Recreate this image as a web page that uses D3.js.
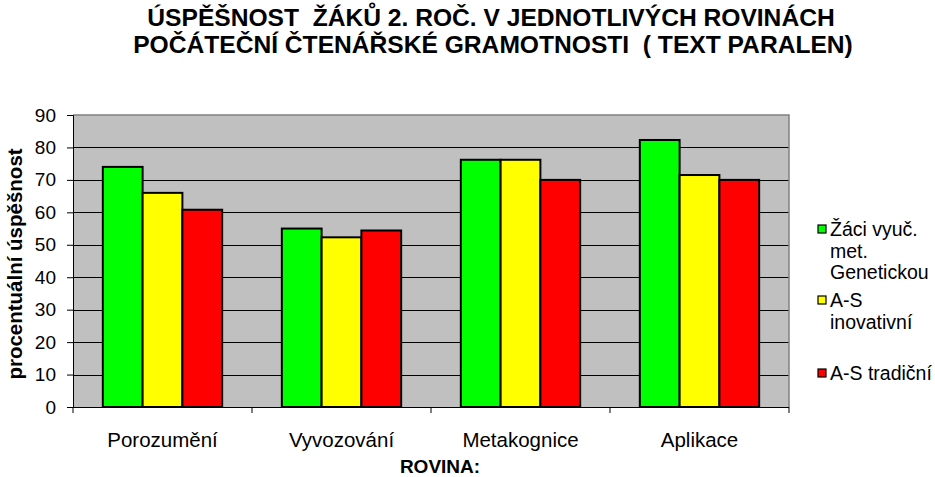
<!DOCTYPE html>
<html>
<head>
<meta charset="utf-8">
<script src="https://cdn.jsdelivr.net/npm/d3@7"></script>
<style>
  body { margin: 0; background: #fff; }
  text { font-family: "Liberation Sans", Arial, sans-serif; white-space: pre; }
</style>
</head>
<body>
<div id="chart"></div>
<script>
// data
const categories = ["Porozumění", "Vyvozování", "Metakognice", "Aplikace"];
const seriesNames = ["Žáci vyuč. met. Genetickou", "A-S inovativní", "A-S tradiční"];
const geneticka = [74, 55, 76.2, 82.3];
const inovativni = [66, 52.3, 76.2, 71.5];
const tradicni = [60.8, 54.4, 70, 70];
const yTicks = [0, 10, 20, 30, 40, 50, 60, 70, 80, 90];

const seriesValues = [geneticka, inovativni, tradicni];
const colors = ["#00FF00", "#FFFF00", "#FF0000"];

const width = 935, height = 477;
const margin = {top: 115, right: 146, bottom: 70, left: 73};
const plotW = width - margin.left - margin.right;
const plotH = height - margin.top - margin.bottom;

const svg = d3.select("#chart").append("svg")
    .attr("width", width)
    .attr("height", height);

// title (double spaces kept as in the original)
const title = svg.append("text")
    .attr("text-anchor", "middle")
    .attr("font-weight", "bold")
    .attr("font-size", 24.6);
title.append("tspan").attr("x", 491).attr("y", 26)
    .text("ÚSPĚŠNOST\u00A0 ŽÁKŮ 2. ROČ. V JEDNOTLIVÝCH ROVINÁCH");
title.append("tspan").attr("x", 493).attr("y", 53)
    .text("POČÁTEČNÍ ČTENÁŘSKÉ GRAMOTNOSTI\u00A0 ( TEXT PARALEN)");

const g = svg.append("g")
    .attr("transform", `translate(${margin.left},${margin.top})`);

const y = d3.scaleLinear().domain([0, 90]).range([plotH, 0]);
const x0 = d3.scaleBand().domain(categories).range([0, plotW])
    .paddingInner(1 / 3).paddingOuter(1 / 6);
const x1 = d3.scaleBand().domain(d3.range(seriesNames.length))
    .range([0, x0.bandwidth()]);

// plot background
g.append("rect")
    .attr("width", plotW)
    .attr("height", plotH)
    .attr("fill", "#C0C0C0");

// gridlines
g.selectAll(".grid")
    .data(yTicks.filter(d => d > 0 && d < 90))
    .enter().append("line")
    .attr("x1", 0).attr("x2", plotW)
    .attr("y1", d => Math.round(y(d)) + 0.5)
    .attr("y2", d => Math.round(y(d)) + 0.5)
    .attr("stroke", "#000")
    .attr("stroke-width", 1);

// top and right border
g.append("path")
    .attr("d", `M0,${y(90)}H${plotW}V${plotH}`)
    .attr("fill", "none")
    .attr("stroke", "#808080")
    .attr("stroke-width", 1.5);

// bars
const rows = categories.map((c, i) => ({cat: c, vals: seriesValues.map(s => s[i])}));
g.selectAll(".group")
    .data(rows)
    .enter().append("g")
    .attr("transform", d => `translate(${x0(d.cat)},0)`)
    .selectAll("rect")
    .data(d => d.vals.map((v, j) => ({v: v, j: j})))
    .enter().append("rect")
    .attr("x", d => x1(d.j))
    .attr("y", d => y(d.v))
    .attr("width", x1.bandwidth())
    .attr("height", d => plotH - y(d.v))
    .attr("fill", d => colors[d.j])
    .attr("stroke", "#000")
    .attr("stroke-width", 2);

// y axis
const yAxis = g.append("g")
    .call(d3.axisLeft(y).tickValues(yTicks).tickSize(6).tickPadding(11));
yAxis.select(".domain").attr("stroke", "#000").attr("stroke-width", 1);
yAxis.selectAll("text")
    .attr("font-size", 19)
    .attr("font-family", "Liberation Sans, Arial, sans-serif")
    .attr("fill", "#000");

// x axis
const bounds = d3.range(categories.length + 1).map(i => i * x0.step());
const xAxis = g.append("g").attr("transform", `translate(0,${plotH})`);
xAxis.append("line")
    .attr("x1", 0).attr("x2", plotW)
    .attr("y1", 0.5).attr("y2", 0.5)
    .attr("stroke", "#000");
xAxis.selectAll(".tick")
    .data(bounds)
    .enter().append("line")
    .attr("x1", d => d).attr("x2", d => d)
    .attr("y1", 0).attr("y2", 6)
    .attr("stroke", "#000");
xAxis.selectAll(".lbl")
    .data(categories)
    .enter().append("text")
    .attr("x", d => x0(d) + x0.bandwidth() / 2)
    .attr("y", 40)
    .attr("text-anchor", "middle")
    .attr("font-size", 20.5)
    .text(d => d);

// axis titles
svg.append("text")
    .attr("x", 440)
    .attr("y", 473)
    .attr("text-anchor", "middle")
    .attr("font-weight", "bold")
    .attr("font-size", 19)
    .text("ROVINA:");

svg.append("text")
    .attr("transform", `translate(22,${margin.top + plotH / 2 + 3}) rotate(-90)`)
    .attr("text-anchor", "middle")
    .attr("font-weight", "bold")
    .attr("font-size", 20.5)
    .text("procentuální úspěšnost");

// legend
const legendItems = [
    {lines: ["Žáci vyuč.", "met.", "Genetickou"], y: 236},
    {lines: ["A-S", "inovativní"], y: 307},
    {lines: ["A-S tradiční"], y: 380}
];
const legend = svg.append("g");
legendItems.forEach((item, i) => {
    legend.append("rect")
        .attr("x", 818)
        .attr("y", item.y - 11)
        .attr("width", 8)
        .attr("height", 8)
        .attr("fill", colors[i])
        .attr("stroke", "#000")
        .attr("stroke-width", 1.2);
    const t = legend.append("text").attr("font-size", 19.5);
    item.lines.forEach((l, k) => {
        t.append("tspan")
            .attr("x", 830)
            .attr("y", item.y + k * 21.5)
            .text(l);
    });
});
</script>
</body>
</html>
